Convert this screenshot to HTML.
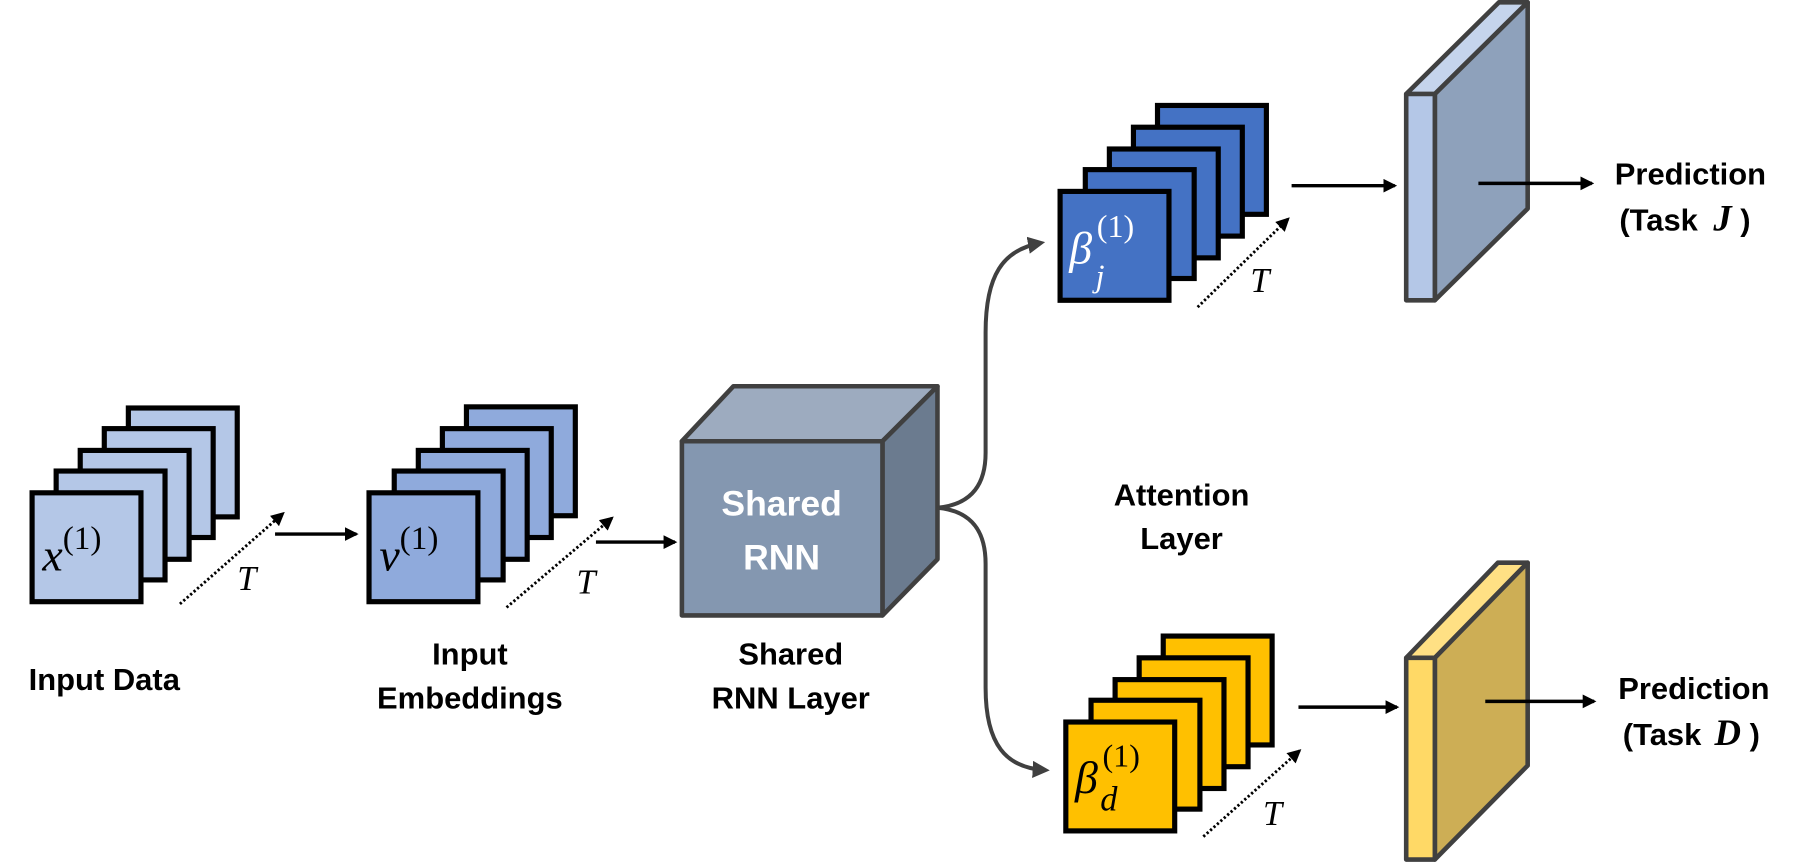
<!DOCTYPE html>
<html><head><meta charset="utf-8"><style>
html,body{margin:0;padding:0;background:#fff;width:1797px;height:863px;overflow:hidden}
svg{display:block}
.lb{font-family:"Liberation Sans",sans-serif;font-weight:bold;font-size:27px;fill:#000}
.m{font-family:"Liberation Serif",serif;font-style:italic}
.n{font-style:normal}
</style></head><body>
<svg width="1797" height="863" viewBox="0 0 1568 753" xmlns="http://www.w3.org/2000/svg">
<defs>
<marker id="ah" markerWidth="12" markerHeight="12" refX="10" refY="6" orient="auto" markerUnits="userSpaceOnUse"><path d="M0,0 L12,6 L0,12 z" fill="#000"/></marker>
<marker id="ag" markerWidth="15" markerHeight="15" refX="11" refY="7.5" orient="auto" markerUnits="userSpaceOnUse"><path d="M0,0 L15,7.5 L0,15 z" fill="#404040"/></marker>
</defs>
<g stroke="#000" stroke-width="4.5">
<g fill="#b4c7e7">
<rect x="112" y="356" width="95" height="95"/>
<rect x="91" y="374" width="95" height="95"/>
<rect x="70" y="393" width="95" height="95"/>
<rect x="49" y="411" width="95" height="95"/>
<rect x="28" y="430" width="95" height="95"/>
</g>
<g fill="#8faadc">
<rect x="407" y="355" width="95" height="95"/>
<rect x="386" y="374" width="95" height="95"/>
<rect x="365" y="393" width="95" height="95"/>
<rect x="344" y="411" width="95" height="95"/>
<rect x="322" y="430" width="95" height="95"/>
</g>
<g fill="#4472c4">
<rect x="1010" y="92" width="95" height="95"/>
<rect x="989" y="111" width="95" height="95"/>
<rect x="968" y="130" width="95" height="95"/>
<rect x="947" y="148" width="95" height="95"/>
<rect x="925" y="167" width="95" height="95"/>
</g>
<g fill="#ffc000">
<rect x="1015" y="555" width="95" height="95"/>
<rect x="994" y="574" width="95" height="95"/>
<rect x="973" y="593" width="95" height="95"/>
<rect x="952" y="611" width="95" height="95"/>
<rect x="930" y="630" width="95" height="95"/>
</g>
</g>
<g stroke="#000" stroke-width="2.5" stroke-dasharray="2,2" fill="none" marker-end="url(#ah)">
<line x1="157" y1="527" x2="247" y2="448"/>
<line x1="442" y1="530" x2="534" y2="452"/>
<line x1="1045" y1="268" x2="1124" y2="191"/>
<line x1="1050" y1="730" x2="1134" y2="655"/>
</g>
<g stroke="#000" stroke-width="3" fill="none" marker-end="url(#ah)">
<line x1="240" y1="466" x2="311" y2="466"/>
<line x1="520" y1="473" x2="589" y2="473"/>
<line x1="1127" y1="162" x2="1217" y2="162"/>
<line x1="1133" y1="617" x2="1219" y2="617"/>
</g>
<g stroke="#404040" stroke-width="4" stroke-linejoin="round">
<polygon points="595,385 640,337 818,337 770,385" fill="#9dabbf"/>
<polygon points="770,385 818,337 818,488 770,537" fill="#6b7b8f"/>
<rect x="595" y="385" width="175" height="152" fill="#8497b0"/>
</g>
<text x="682" y="450" text-anchor="middle" class="lb" style="fill:#fff;font-size:31px">Shared</text>
<text x="682" y="497" text-anchor="middle" class="lb" style="fill:#fff;font-size:31px">RNN</text>
<g stroke="#404040" stroke-width="3.5" fill="none">
<path d="M818,443 C850,440 860,420 860,395 L860,290 C860,240 875,218 908,212" marker-end="url(#ag)"/>
<path d="M818,443 C850,446 860,466 860,492 L860,600 C860,650 878,670 912,672" marker-end="url(#ag)"/>
</g>
<g stroke="#404040" stroke-width="4" stroke-linejoin="round">
<polygon points="1227,82 1308,2 1333,2 1252,82" fill="#c5d4ec"/>
<polygon points="1252,82 1333,2 1333,182 1252,262" fill="#8ea1bb"/>
<rect x="1227" y="82" width="25" height="180" fill="#b4c7e7"/>
</g>
<g stroke="#404040" stroke-width="4" stroke-linejoin="round">
<polygon points="1227,574 1307,491 1333,491 1252,574" fill="#ffe084"/>
<polygon points="1252,574 1333,491 1333,668 1252,750" fill="#cdae55"/>
<rect x="1227" y="574" width="25" height="176" fill="#ffd966"/>
</g>
<g stroke="#000" stroke-width="3" fill="none" marker-end="url(#ah)">
<line x1="1290" y1="160" x2="1389" y2="160"/>
<line x1="1296" y1="612" x2="1391" y2="612"/>
</g>
<text x="37" y="498" class="m" font-size="40" fill="#000">x<tspan class="n" font-size="29" dy="-19">(1)</tspan></text>
<text x="331" y="498" class="m" font-size="40" fill="#000">v<tspan class="n" font-size="29" dy="-19">(1)</tspan></text>
<text x="933" y="230" class="m" font-size="40" fill="#fff">β</text>
<text x="957" y="207" class="m n" font-size="28" fill="#fff">(1)</text>
<text x="956" y="250" class="m" font-size="28" fill="#fff">j</text>
<text x="938" y="692" class="m" font-size="40" fill="#000">β</text>
<text x="962" y="669" class="m n" font-size="28" fill="#000">(1)</text>
<text x="960" y="707" class="m" font-size="30" fill="#000">d</text>
<g class="m" font-size="30" fill="#000">
<text x="207" y="515">T</text>
<text x="503" y="518">T</text>
<text x="1091" y="255">T</text>
<text x="1102" y="720">T</text>
</g>
<text x="91" y="602" text-anchor="middle" class="lb">Input Data</text>
<text x="410" y="580" text-anchor="middle" class="lb">Input</text>
<text x="410" y="618" text-anchor="middle" class="lb">Embeddings</text>
<text x="690" y="580" text-anchor="middle" class="lb">Shared</text>
<text x="690" y="618" text-anchor="middle" class="lb">RNN Layer</text>
<text x="1031" y="441" text-anchor="middle" class="lb">Attention</text>
<text x="1031" y="479" text-anchor="middle" class="lb">Layer</text>
<text x="1475" y="161" text-anchor="middle" class="lb">Prediction</text>
<text x="1413" y="201" class="lb">(Task <tspan class="m" font-size="32" dx="6">J</tspan> )</text>
<text x="1478" y="610" text-anchor="middle" class="lb">Prediction</text>
<text x="1416" y="650" class="lb">(Task <tspan class="m" font-size="32" dx="4">D</tspan> )</text>
</svg>
</body></html>
